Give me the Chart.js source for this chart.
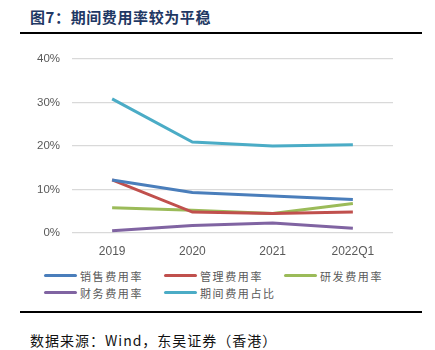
<!DOCTYPE html>
<html>
<head>
<meta charset="utf-8">
<script src="https://cdn.jsdelivr.net/npm/chart.js@4/dist/chart.umd.min.js"></script>
<style>
  body { margin: 0; background: #fff; }
  #page { position: relative; width: 435px; height: 350px; overflow: hidden; font-family: "Noto Sans CJK SC", sans-serif; }
  #title { position: absolute; left: 30px; top: 6px; font-size: 15px; font-weight: bold; color: #1f3864; letter-spacing: 0.6px; line-height: 22px; }
  .rule { position: absolute; left: 20px; width: 402px; height: 2px; background: #000; }
  #chart { position: absolute; left: 0; top: 40px; }
  #legend { position: absolute; left: 44px; top: 267px; display: grid; grid-template-columns: 120px 120px 120px; row-gap: 0; }
  .item { display: flex; align-items: center; height: 17px; font-size: 11px; color: #595959; letter-spacing: 1.6px; }
  .swatch { width: 33px; height: 3px; border-radius: 1.5px; margin-right: 3px; }
  #source { position: absolute; left: 30px; top: 329px; font-size: 14px; color: #111; letter-spacing: 1px; line-height: 22px; }
</style>
</head>
<body>
<div id="page">
  <div id="title">图7：期间费用率较为平稳</div>
  <div class="rule" style="top:32px"></div>
  <canvas id="chart" width="435" height="218"></canvas>
  <div id="legend"></div>
  <div class="rule" style="top:311px"></div>
  <div id="source">数据来源：Wind，东吴证券（香港）</div>
</div>
<script>
const labels = ["2019", "2020", "2021", "2022Q1"];

// 单位: %
const sales = [12.2, 9.3, 8.5, 7.7];
const admin = [12.2, 4.8, 4.5, 4.8];
const rnd = [5.8, 5.2, 4.5, 6.8];
const finance = [0.5, 1.7, 2.3, 1.1];
const periodTotal = [30.8, 20.9, 20.0, 20.3];

const seriesNames = ["销售费用率", "管理费用率", "研发费用率", "财务费用率", "期间费用占比"];
const seriesColors = ["#4a7ebb", "#c0504d", "#9bbb59", "#8064a2", "#4bacc6"];
const seriesData = [sales, admin, rnd, finance, periodTotal];

const datasets = seriesData.map((d, i) => ({
  label: seriesNames[i],
  data: d,
  borderColor: seriesColors[i],
  backgroundColor: seriesColors[i],
  borderWidth: 3,
  pointRadius: 0,
  tension: 0,
  fill: false,
}));

const chart = new Chart(document.getElementById("chart"), {
  type: "line",
  data: { labels: labels, datasets: datasets },
  options: {
    responsive: false,
    animation: false,
    layout: { padding: { top: 18, right: 42, left: 0, bottom: 0 } },
    plugins: { legend: { display: false }, tooltip: { enabled: false } },
    scales: {
      x: {
        offset: true,
        grid: { display: false },
        border: { display: false },
        ticks: { color: "#595959", font: { family: "Liberation Sans, Arial", size: 12 }, padding: 3 },
        afterFit: (s) => { s.height = 25; },
      },
      y: {
        min: 0,
        max: 40,
        grid: { color: "#d9d9d9", lineWidth: 1.3, drawTicks: false },
        border: { display: false },
        ticks: {
          stepSize: 10,
          padding: 12,
          color: "#595959",
          font: { family: "Liberation Sans, Arial", size: 11.5 },
          callback: (v) => v + "%",
        },
        afterFit: (s) => { s.width = 72; },
      },
    },
  },
});

// legend built from the same series
const legend = document.getElementById("legend");
seriesNames.forEach((name, i) => {
  const item = document.createElement("div");
  item.className = "item";
  item.innerHTML = '<span class="swatch" style="background:' + seriesColors[i] + '"></span>' + name;
  legend.appendChild(item);
});
</script>
</body>
</html>
